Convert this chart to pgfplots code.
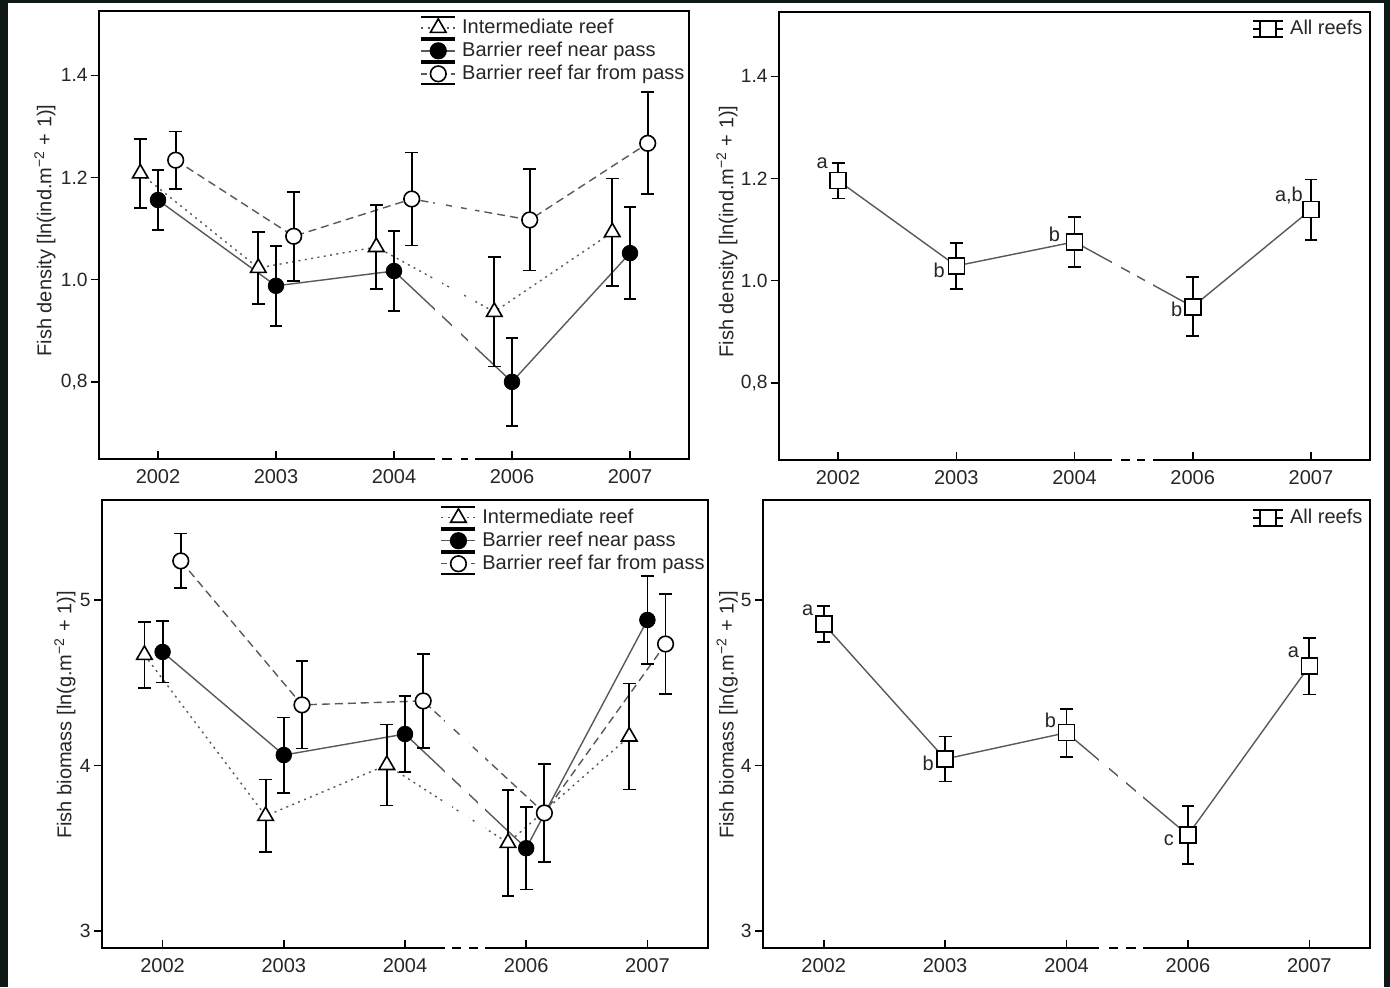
\documentclass[border=0pt]{standalone}
\usepackage{fontspec}
\setmainfont{Liberation Sans}
\usepackage{pgfplots}
\usepackage{pgfplotstable}
\pgfplotsset{compat=1.18}
\definecolor{lgray}{gray}{0.35}
\definecolor{bgdark}{RGB}{14,24,21}

\pgfplotstableread{
x y e
-0.15 1.208 0.068
0.85 1.023 0.070
1.85 1.064 0.082
2.85 0.937 0.107
3.85 1.093 0.105
}\tlTri
\pgfplotstableread{
x y e
0 1.156 0.059
1 0.988 0.078
2 1.017 0.078
3 0.800 0.086
4 1.052 0.090
}\tlFill
\pgfplotstableread{
x y e
0.15 1.234 0.056
1.15 1.085 0.087
2.15 1.158 0.091
3.15 1.117 0.099
4.15 1.267 0.100
}\tlOpen
\pgfplotstableread{
x y e
0 1.196 0.035
1 1.029 0.045
2 1.076 0.049
3 0.949 0.058
4 1.139 0.059
}\trAll
\pgfplotstableread{
x y e
-0.15 4.668 0.200
0.85 3.695 0.220
1.85 4.003 0.245
2.85 3.532 0.320
3.85 4.175 0.320
}\blTri
\pgfplotstableread{
x y e
0 4.686 0.185
1 4.063 0.227
2 4.190 0.230
3 3.500 0.250
4 4.879 0.266
}\blFill
\pgfplotstableread{
x y e
0.15 5.236 0.166
1.15 4.366 0.263
2.15 4.390 0.284
3.15 3.713 0.298
4.15 4.734 0.300
}\blOpen
\pgfplotstableread{
x y e
0 4.855 0.110
1 4.039 0.136
2 4.198 0.145
3 3.580 0.174
4 4.600 0.171
}\brAll

\pgfplotsset{
 panel/.style={
   scale only axis, clip=false, anchor=south west,
   xmin=-0.5, xmax=4.5,
   xtick={0,1,2,3,4}, xticklabels={2002,2003,2004,2006,2007},
   tick pos=left, xtick align=inside, ytick align=outside,
   major tick length=4pt,
   axis line style={line width=0.9pt},
   every tick/.style={black, line width=0.8pt},
   tick label style={font=\fontsize{10}{12}\selectfont, text=black!85},
   xticklabel style={yshift=-1.5pt},
   yticklabel style={font=\fontsize{9.6}{11}\selectfont, inner xsep=1.5pt},
   label style={font=\fontsize{10}{12}\selectfont, text=black!85},
   legend style={draw=none, fill=none, inner sep=0pt, legend cell align=left,
     nodes={text height=7.5pt, text depth=2pt, inner ysep=1pt, inner xsep=3pt,
       font=\fontsize{10}{12}\selectfont, text=black!85}},
 },
 toprow/.style={ymin=0.649, ymax=1.526, ytick={0.8,1.0,1.2,1.4},
   yticklabels={{0,8},{1.0},{1.2},{1.4}},
   ylabel={Fish density [ln(ind.m\textsuperscript{−2} + 1)]}},
 botrow/.style={ymin=2.897, ymax=5.604, ytick={3,4,5}, yticklabels={3,4,5},
   ylabel={Fish biomass [ln(g.m\textsuperscript{−2} + 1)]}},
 triline/.style={lgray, line width=0.7pt, dash pattern=on 1pt off 2.2pt, mark=none, forget plot},
 fillline/.style={lgray, line width=0.7pt, solid, mark=none, forget plot},
 openline/.style={lgray, line width=0.7pt, dash pattern=on 4pt off 2.5pt, mark=none, forget plot},
 errs/.style={error bars/y dir=both, error bars/y explicit,
   error bars/error bar style={black, line width=0.9pt, solid},
   error bars/error mark options={rotate=90, mark size=3.2pt, line width=0.9pt, black, solid}},
 trimark/.style={only marks, mark=triangle*, mark size=4.5pt, mark options={fill=white, draw=black, line width=0.8pt, solid}, errs},
 fillmark/.style={only marks, mark=*, mark size=3.9pt, mark options={fill=black, draw=black, solid}, errs},
 openmark/.style={only marks, mark=*, mark size=3.9pt, mark options={fill=white, draw=black, line width=0.8pt, solid}, errs},
 sqmark/.style={only marks, mark=square*, mark size=4pt, mark options={fill=white, draw=black, line width=0.8pt, solid}, errs},
 trileg/.style={legend image code/.code={
   \draw[black,line width=0.9pt] (0pt,5.25pt) -- (17pt,5.25pt) (0pt,-5.25pt) -- (17pt,-5.25pt);
   \draw[lgray,line width=0.7pt,dash pattern=on 1pt off 2.2pt] (0pt,0pt) -- (17pt,0pt);
   \draw[black,line width=0.8pt,mark=triangle*,mark size=4.5pt,mark options={fill=white,solid}] plot coordinates {(8.5pt,0pt)};}},
 fillleg/.style={legend image code/.code={
   \draw[black,line width=0.9pt] (0pt,5.25pt) -- (17pt,5.25pt) (0pt,-5.25pt) -- (17pt,-5.25pt);
   \draw[lgray,line width=0.7pt] (0pt,0pt) -- (17pt,0pt);
   \draw[black,line width=0.8pt,mark=*,mark size=3.9pt,mark options={fill=black,solid}] plot coordinates {(8.5pt,0pt)};}},
 openleg/.style={legend image code/.code={
   \draw[black,line width=0.9pt] (0pt,5.25pt) -- (17pt,5.25pt) (0pt,-5.25pt) -- (17pt,-5.25pt);
   \draw[lgray,line width=0.7pt,dash pattern=on 3pt off 2pt] (0pt,0pt) -- (17pt,0pt);
   \draw[black,line width=0.8pt,mark=*,mark size=3.9pt,mark options={fill=white,solid}] plot coordinates {(8.5pt,0pt)};}},
 sqleg/.style={legend image code/.code={
   \draw[black,line width=0.9pt] (0pt,4pt) -- (15pt,4pt) (0pt,-4pt) -- (15pt,-4pt);
   \draw[black,line width=0.8pt] (0pt,0pt) -- (15pt,0pt);
   \draw[black,line width=0.8pt,mark=square*,mark size=4pt,mark options={fill=white,solid}] plot coordinates {(7.5pt,0pt)};}},
}

\begin{document}
\begin{tikzpicture}
\fill[bgdark] (0pt,0pt) rectangle (695pt,493.5pt);
\fill[white] (4pt,0pt) rectangle (692pt,492pt);
\useasboundingbox (0pt,0pt) rectangle (695pt,493.5pt);

% ---------- top left ----------
\begin{axis}[panel, toprow, at={(49.5pt,264pt)}, width=295pt, height=224pt,
  ylabel style={at={(axis description cs:-0.0915,0.51)}, anchor=center},
  legend style={at={(axis description cs:0.544,0.989)}, anchor=north west}]
\addplot[triline] table[x=x,y=y] {\tlTri};
\addplot[fillline] table[x=x,y=y] {\tlFill};
\addplot[openline] table[x=x,y=y] {\tlOpen};
\fill[white] ([yshift=-1.5pt]axis cs:2.35,0.649) rectangle (axis cs:2.41,1.32);
\fill[white] ([yshift=-1.5pt]axis cs:2.49,0.649) rectangle (axis cs:2.565,1.32);
\fill[white] ([yshift=-1.5pt]axis cs:2.63,0.649) rectangle (axis cs:2.69,1.32);
\addplot[trimark, trileg] table[x=x,y=y,y error=e] {\tlTri};
\addlegendentry{Intermediate reef}
\addplot[fillmark, fillleg] table[x=x,y=y,y error=e] {\tlFill};
\addlegendentry{Barrier reef near pass}
\addplot[openmark, openleg] table[x=x,y=y,y error=e] {\tlOpen};
\addlegendentry{Barrier reef far from pass}
\end{axis}

% ---------- top right ----------
\begin{axis}[panel, toprow, at={(389.5pt,263.5pt)}, width=295.5pt, height=224pt,
  ylabel style={at={(axis description cs:-0.088,0.51)}, anchor=center},
  legend style={at={(axis description cs:0.998,0.989)}, anchor=north east}]
\addplot[fillline] table[x=x,y=y] {\trAll};
\fill[white] ([yshift=-1.5pt]axis cs:2.32,0.649) rectangle (axis cs:2.39,1.3);
\fill[white] ([yshift=-1.5pt]axis cs:2.47,0.649) rectangle (axis cs:2.53,1.3);
\fill[white] ([yshift=-1.5pt]axis cs:2.60,0.649) rectangle (axis cs:2.66,1.3);
\addplot[sqmark, sqleg] table[x=x,y=y,y error=e] {\trAll};
\addlegendentry{All reefs}
\node[font=\fontsize{10}{12}\selectfont, text=black!85, xshift=-8pt, yshift=8.5pt] at (axis cs:0,1.196) {a};
\node[font=\fontsize{10}{12}\selectfont, text=black!85, xshift=-8.5pt, yshift=-2pt] at (axis cs:1,1.029) {b};
\node[font=\fontsize{10}{12}\selectfont, text=black!85, xshift=-10pt, yshift=4pt] at (axis cs:2,1.076) {b};
\node[font=\fontsize{10}{12}\selectfont, text=black!85, xshift=-8pt, yshift=-1.5pt] at (axis cs:3,0.949) {b};
\node[font=\fontsize{10}{12}\selectfont, text=black!85, xshift=-11pt, yshift=7pt] at (axis cs:4,1.139) {a,b};
\end{axis}

% ---------- bottom left ----------
\begin{axis}[panel, botrow, at={(51pt,19.5pt)}, width=303pt, height=224pt,
  ylabel style={at={(axis description cs:-0.061,0.52)}, anchor=center},
  legend style={at={(axis description cs:0.558,0.987)}, anchor=north west}]
\addplot[triline] table[x=x,y=y] {\blTri};
\addplot[fillline] table[x=x,y=y] {\blFill};
\addplot[openline] table[x=x,y=y] {\blOpen};
\fill[white] ([yshift=-1.5pt]axis cs:2.33,2.897) rectangle (axis cs:2.39,4.9);
\fill[white] ([yshift=-1.5pt]axis cs:2.46,2.897) rectangle (axis cs:2.53,4.9);
\fill[white] ([yshift=-1.5pt]axis cs:2.60,2.897) rectangle (axis cs:2.66,4.9);
\addplot[trimark, trileg] table[x=x,y=y,y error=e] {\blTri};
\addlegendentry{Intermediate reef}
\addplot[fillmark, fillleg] table[x=x,y=y,y error=e] {\blFill};
\addlegendentry{Barrier reef near pass}
\addplot[openmark, openleg] table[x=x,y=y,y error=e] {\blOpen};
\addlegendentry{Barrier reef far from pass}
\end{axis}

% ---------- bottom right ----------
\begin{axis}[panel, botrow, at={(381.5pt,19.5pt)}, width=303.5pt, height=224pt,
  ylabel style={at={(axis description cs:-0.059,0.52)}, anchor=center},
  legend style={at={(axis description cs:0.998,0.987)}, anchor=north east}]
\addplot[fillline] table[x=x,y=y] {\brAll};
\fill[white] ([yshift=-1.5pt]axis cs:2.27,2.897) rectangle (axis cs:2.35,4.9);
\fill[white] ([yshift=-1.5pt]axis cs:2.42,2.897) rectangle (axis cs:2.49,4.9);
\fill[white] ([yshift=-1.5pt]axis cs:2.57,2.897) rectangle (axis cs:2.63,4.9);
\addplot[sqmark, sqleg] table[x=x,y=y,y error=e] {\brAll};
\addlegendentry{All reefs}
\node[font=\fontsize{10}{12}\selectfont, text=black!85, xshift=-8pt, yshift=7pt] at (axis cs:0,4.855) {a};
\node[font=\fontsize{10}{12}\selectfont, text=black!85, xshift=-8.5pt, yshift=-2pt] at (axis cs:1,4.039) {b};
\node[font=\fontsize{10}{12}\selectfont, text=black!85, xshift=-8pt, yshift=6pt] at (axis cs:2,4.198) {b};
\node[font=\fontsize{10}{12}\selectfont, text=black!85, xshift=-9.5pt, yshift=-2.5pt] at (axis cs:3,3.580) {c};
\node[font=\fontsize{10}{12}\selectfont, text=black!85, xshift=-8pt, yshift=7pt] at (axis cs:4,4.600) {a};
\end{axis}
\end{tikzpicture}
\end{document}
